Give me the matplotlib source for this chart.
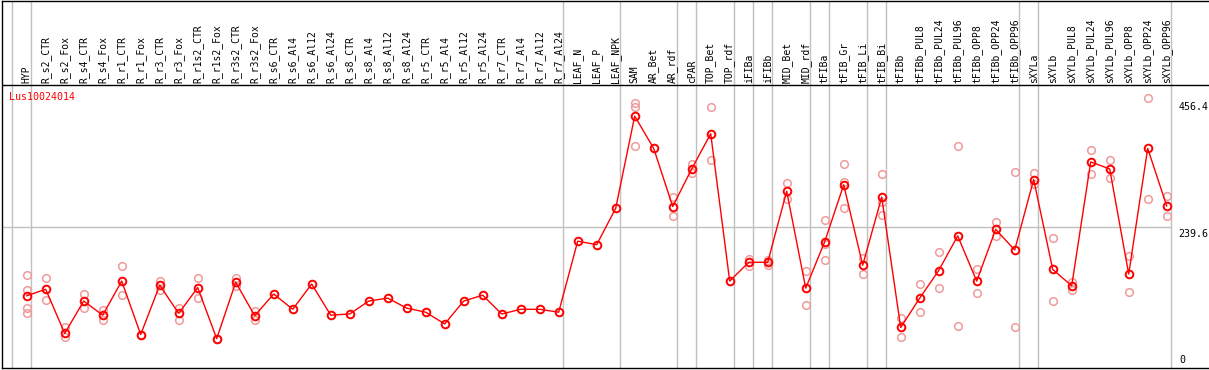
import numpy as np
import matplotlib
matplotlib.use('Agg')
import matplotlib.pyplot as plt

# === dane ===
probe = 'Lus10024014'

samples = ['HYP', 'R_s2_CTR', 'R_s2_Fox', 'R_s4_CTR', 'R_s4_Fox', 'R_r1_CTR', 'R_r1_Fox',
           'R_r3_CTR', 'R_r3_Fox', 'R_r1s2_CTR', 'R_r1s2_Fox', 'R_r3s2_CTR', 'R_r3s2_Fox',
           'R_s6_CTR', 'R_s6_Al4', 'R_s6_Al12', 'R_s6_Al24', 'R_s8_CTR', 'R_s8_Al4',
           'R_s8_Al12', 'R_s8_Al24', 'R_r5_CTR', 'R_r5_Al4', 'R_r5_Al12', 'R_r5_Al24',
           'R_r7_CTR', 'R_r7_Al4', 'R_r7_Al12', 'R_r7_Al24', 'LEAF_N', 'LEAF_P', 'LEAF_NPK',
           'SAM', 'AR_Bet', 'AR_rdf', 'cPAR', 'TOP_Bet', 'TOP_rdf', 'iFIBa', 'iFIBb',
           'MID_Bet', 'MID_rdf', 'tFIBa', 'tFIB_Gr', 'tFIB_Li', 'tFIB_Bi', 'tFIBb',
           'tFIBb_PUL8', 'tFIBb_PUL24', 'tFIBb_PUL96', 'tFIBb_OPP8', 'tFIBb_OPP24',
           'tFIBb_OPP96', 'sXYLa', 'sXYLb', 'sXYLb_PUL8', 'sXYLb_PUL24', 'sXYLb_PUL96',
           'sXYLb_OPP8', 'sXYLb_OPP24', 'sXYLb_OPP96']

mean_expr = [123, 134, 59, 114, 90, 148, 57, 141, 93, 137, 50, 146, 89,
             126, 100, 143, 90, 92, 114, 119, 102, 95, 75, 114, 124,
             92, 100, 100, 95, 216, 210, 272,
             429, 374, 275, 339, 399, 148, 180, 180,
             301, 136, 215, 312, 175, 291, 69,
             119, 166, 225, 148, 236, 201,
             321, 168, 140, 351, 339, 160, 374, 276]

replicates = [[158, 133, 102, 94], [154, 116], [69, 52], [126, 102], [98, 82], [174, 124], [57],
              [149, 133], [102, 82], [153, 119], [50], [154, 139], [97, 81],
              [], [], [], [], [], [], [], [], [], [], [], [],
              [], [], [], [], [], [], [],
              [452, 445, 378], [], [291, 259], [347, 332], [445, 354], [], [186, 174], [184, 175],
              [315, 287], [166, 107], [252, 211, 184], [347, 316, 272], [187, 160], [330, 282, 261], [86, 52],
              [143, 96], [197, 137], [378, 71], [169, 128], [248, 225], [333, 69],
              [332, 313], [221, 114], [147, 133], [371, 330], [354, 323], [191, 129], [459, 288], [293, 259]]

# ostatnia probka kazdej grupy (-1 = przed pierwsza)
group_ends = [-1, 0, 28, 31, 34, 35, 37, 38, 39, 41, 42, 44, 45, 52, 53, 60]

y_max = 456.4
y_mid = 239.6

# === wykres ===
W, H = 1209, 370
fig = plt.figure(figsize=(W / 100, H / 100), dpi=100)

px_per_val = 268 / 456.4
y_top = 367.5 / px_per_val
ax = fig.add_axes([1.5 / W, 2 / H, 1 - 1.5 / W, 367.5 / H])
ax.set_xlim((1.5 - 26.7) / 19, (W - 26.7) / 19)
ax.set_ylim(0, y_top)
ax.set_xticks([])
ax.set_yticks([])
for s in ['left', 'bottom', 'top']:
    ax.spines[s].set_linewidth(1)
    ax.spines[s].set_color('black')
ax.spines['right'].set_visible(False)

header_y = 283 / px_per_val
ax.axhline(header_y, color='black', lw=1)
ax.hlines(y_mid, ax.get_xlim()[0], 60.2, color='#c0c0c0', lw=1)
for g in group_ends:
    ax.axvline(g + 0.2, color='#c0c0c0', lw=1, zorder=1)

x = np.arange(len(samples))
for i, reps in enumerate(replicates):
    if reps:
        ax.plot([i] * len(reps), reps, 'o', ms=5.5, mfc='none', mec='#f09a9a', mew=1.1, zorder=2)

ax.plot(x, mean_expr, '-', color='red', lw=1, zorder=3)
ax.plot(x, mean_expr, 'o', ms=5.5, mfc='none', mec='red', mew=1.4, zorder=4)

for i, name in enumerate(samples):
    ax.text(i, header_y + 2 / px_per_val, name, rotation=90, ha='center', va='bottom',
            fontsize=7, family='DejaVu Sans Mono')

ax.text(-0.92, 462, probe, color='red', ha='left', va='center', fontsize=7.2, family='DejaVu Sans Mono')

ax.text(60.6, y_max - 2 / px_per_val, f'{y_max}', ha='left', va='top', fontsize=7.2, family='DejaVu Sans Mono')
ax.text(60.6, y_mid - 1.5 / px_per_val, f'{y_mid}', ha='left', va='top', fontsize=7.2, family='DejaVu Sans Mono')
ax.text(60.65, 3 / px_per_val, '0', ha='left', va='bottom', fontsize=7.2, family='DejaVu Sans Mono')

fig.savefig('out.png', dpi=100)
